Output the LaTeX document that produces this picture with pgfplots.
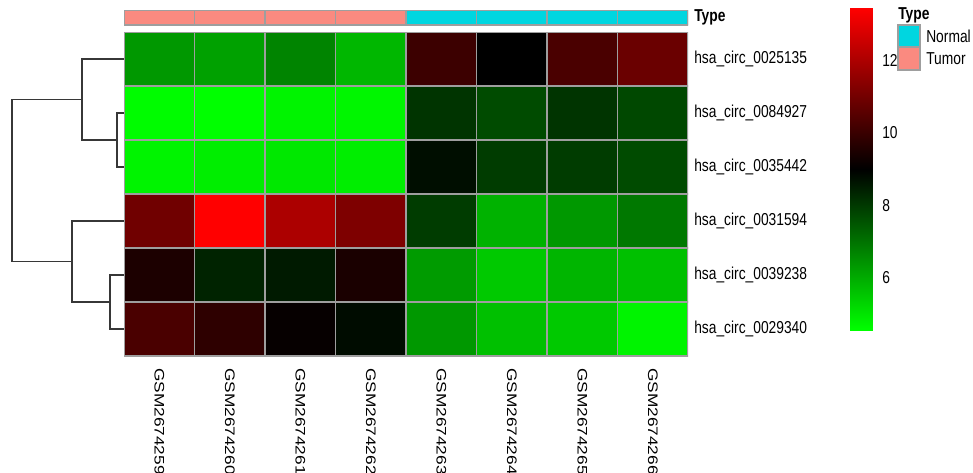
\documentclass[border=0pt]{standalone}
\usepackage{pgfplots}
\pgfplotsset{compat=1.18}
\usepackage{pgfplotstable}
\usepackage{graphicx}
\usepackage{fontspec}
\setmainfont{Liberation Sans}
\newcommand\st[1]{\scalebox{1}[1.25]{#1}}
\newcommand\sr[1]{\scalebox{1.25}[1]{#1}}
\definecolor{tumor}{RGB}{250,138,128}
\definecolor{normal}{RGB}{0,214,224}
\definecolor{gridgray}{RGB}{158,158,158}
\definecolor{dendro}{RGB}{55,55,55}

\pgfplotstableread{
x y c
0 0 6.35
1 0 6.20
2 0 6.70
3 0 5.80
4 0 10.05
5 0 9.00
6 0 10.30
7 0 10.85
0 1 4.60
1 1 4.55
2 1 4.75
3 1 4.70
4 1 8.10
5 1 7.70
6 1 8.10
7 1 7.75
0 2 4.75
1 2 4.85
2 2 4.95
3 2 4.85
4 2 8.75
5 2 7.95
6 2 7.95
7 2 7.70
0 3 10.95
1 3 13.45
2 3 12.00
3 3 11.20
4 3 7.95
5 3 5.90
6 3 6.35
7 3 6.90
0 4 9.50
1 4 8.40
2 4 8.55
3 4 9.45
4 4 6.30
5 4 5.50
6 4 5.85
7 4 5.65
0 5 10.30
1 5 9.80
2 5 9.10
3 5 8.80
4 5 6.35
5 5 5.65
6 5 5.50
7 5 4.75
}\heat

\begin{document}
\fontsize{10.35}{12}\selectfont
\begin{tikzpicture}
\path[use as bounding box] (0,0) rectangle (729.75pt,-354pt);
\pgfplotsset{colormap={gbr}{rgb255=(0,255,0) rgb255=(0,0,0) rgb255=(255,0,0)}}

% dendrogram
\begin{axis}[
  at={(9pt,-24pt)}, anchor=north west,
  scale only axis, width=84pt, height=243pt,
  hide axis, xmin=0, xmax=112, x dir=reverse,
  ymin=-0.5, ymax=5.5, y dir=reverse, clip=false]
\addplot[dendro, line width=1.1pt] coordinates {(0,1)(7,1)(7,2)(0,2)};
\addplot[dendro, line width=1.1pt] coordinates {(0,0)(42,0)(42,1.5)(7,1.5)};
\addplot[dendro, line width=1.1pt] coordinates {(0,4)(14,4)(14,5)(0,5)};
\addplot[dendro, line width=1.1pt] coordinates {(0,3)(52,3)(52,4.5)(14,4.5)};
\addplot[dendro, line width=1.1pt] coordinates {(42,0.75)(112,0.75)(112,3.75)(52,3.75)};
\end{axis}

% annotation bar
\begin{axis}[
  at={(93pt,-7.5pt)}, anchor=north west,
  scale only axis, width=423pt, height=11.25pt,
  xmin=-0.5, xmax=7.5, ymin=0, ymax=1,
  axis line style={draw=none}, tick style={draw=none},
  xtick=\empty, ytick={0.5}, yticklabels={\st{\textbf{Type}}},
  yticklabel pos=right,
  yticklabel style={anchor=west, inner sep=0pt, xshift=4.5pt}]
\addplot[ybar interval, fill=tumor, draw=gridgray, line width=0.8pt] coordinates {(-0.5,1)(0.5,1)(1.5,1)(2.5,1)(3.5,1)};
\addplot[ybar interval, fill=normal, draw=gridgray, line width=0.8pt] coordinates {(3.5,1)(4.5,1)(5.5,1)(6.5,1)(7.5,1)};
\end{axis}

% heatmap
\begin{axis}[
  at={(93pt,-24pt)}, anchor=north west,
  scale only axis, width=423pt, height=243pt,
  xmin=-0.5, xmax=7.5, ymin=-0.5, ymax=5.5, y dir=reverse,
  axis line style={draw=none}, tick style={draw=none},
  point meta min=4.55, point meta max=13.45,
  xtick={0,...,7},
  xticklabels={\sr{GSM2674259},\sr{GSM2674260},\sr{GSM2674261},\sr{GSM2674262},\sr{GSM2674263},\sr{GSM2674264},\sr{GSM2674265},\sr{GSM2674266}},
  xticklabel style={rotate=-90, anchor=west, inner sep=0pt, xshift=9pt},
  ytick={0,...,5},
  yticklabels={\st{hsa\_circ\_0025135},\st{hsa\_circ\_0084927},\st{hsa\_circ\_0035442},\st{hsa\_circ\_0031594},\st{hsa\_circ\_0039238},\st{hsa\_circ\_0029340}},
  yticklabel pos=right,
  yticklabel style={anchor=west, inner sep=0pt, xshift=4.5pt}]
\addplot[matrix plot*, mesh/cols=8, point meta=explicit, draw=gridgray, line width=0.8pt] table[meta=c]{\heat};
\end{axis}

% colour key
\begin{axis}[
  at={(637.5pt,-6pt)}, anchor=north west,
  scale only axis, width=16.5pt, height=241.5pt,
  xmin=0, xmax=1, ymin=4.55, ymax=13.45,
  axis line style={draw=none}, tick style={draw=none},
  xtick=\empty, ytick={6,8,10,12}, yticklabels={\st{6},\st{8},\st{10},\st{12}},
  yticklabel pos=right,
  yticklabel style={anchor=west, inner sep=0pt, xshift=7.5pt},
  point meta min=4.55, point meta max=13.45]
\addplot[surf, shader=interp, point meta=y] table {
x y
0 4.55
1 4.55

0 13.45
1 13.45
};
\end{axis}

% legend
\node[anchor=west, inner sep=0pt] at (673.5pt,-11.25pt) {\st{\textbf{Type}}};
\filldraw[fill=normal, draw=gridgray, line width=0.8pt] (673.5pt,-18.75pt) rectangle (690pt,-35.25pt);
\filldraw[fill=tumor, draw=gridgray, line width=0.8pt] (673.5pt,-35.25pt) rectangle (690pt,-52.5pt);
\node[anchor=west, inner sep=0pt] at (694.5pt,-27pt) {\st{Normal}};
\node[anchor=west, inner sep=0pt] at (694.5pt,-44.25pt) {\st{Tumor}};
\end{tikzpicture}
\end{document}
